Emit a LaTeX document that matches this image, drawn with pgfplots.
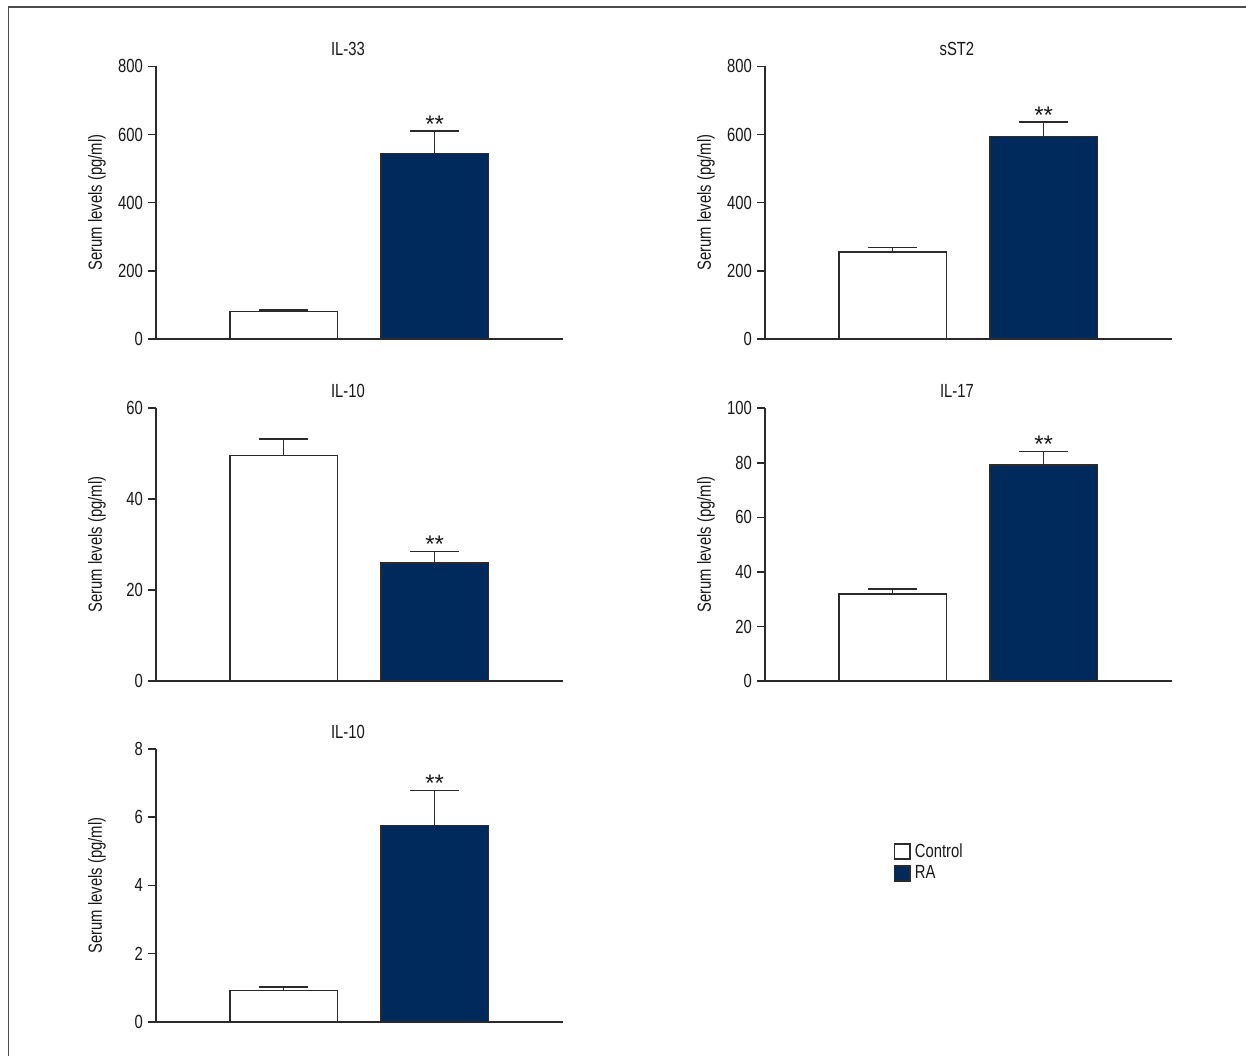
\documentclass[border=0pt]{standalone}
\usepackage{fontspec}
\setmainfont{Liberation Sans}[FakeStretch=0.78]
\newfontfamily\starfont{Liberation Sans}
\usepackage{pgfplots}
\pgfplotsset{compat=1.18}
\definecolor{navy}{HTML}{002A5C}
\definecolor{axcol}{HTML}{2B2B2B}
\definecolor{txtcol}{HTML}{1A1718}
\definecolor{framecol}{HTML}{4D4D4D}
\newcommand{\fs}{\fontsize{9.5}{11}\selectfont}

\tikzset{stars/.style={font=\starfont\fontsize{12}{12}\selectfont, text=txtcol, anchor=base, yshift=-0.6pt}}

\pgfplotsset{
 panel/.style={
  scale only axis, width=203.3pt, height=136.35pt,
  anchor=south west,
  xmin=0.1543, xmax=2.847, ymin=0,
  axis x line=bottom, axis y line=left,
  axis line style={-, line width=0.8pt, draw=axcol},
  xtick=\empty,
  tick align=outside, major tick length=4pt,
  ytick style={line width=0.8pt, draw=axcol},
  yticklabel style={font=\fs, text=txtcol, xshift=1pt},
  /pgf/number format/assume math mode=true,
  ylabel={Serum levels (pg/ml)},
  ylabel style={at={(axis description cs:-0.145,0.5)}, anchor=center, font=\fs, text=txtcol},
  title style={at={(axis description cs:0.472,1)}, anchor=base, yshift=-0.5pt, font=\fs, text=txtcol},
  clip=false,
  enlargelimits=false,
  scaled y ticks=false,
 },
 barbase/.style={ybar, bar shift=0pt, bar width=53.75pt, draw=axcol, line width=0.8pt,
   error bars/y dir=plus, error bars/y explicit,
   error bars/error bar style={line width=0.75pt, draw=axcol},
   error bars/error mark options={rotate=90, mark size=12.25pt, line width=0.75pt, draw=axcol}},
 ctrl/.style={barbase, fill=white},
 ra/.style={barbase, fill=navy},
}

\begin{document}
\begin{tikzpicture}
\path[use as bounding box] (0pt,0pt) rectangle (623pt,528pt);
\draw[line width=0.9pt, framecol] (4.2pt,0pt) -- (4.2pt,524.65pt) -- (623pt,524.65pt);

% IL-33
\begin{axis}[panel, at={(78pt,358.5pt)}, ymax=800, ytick={0,200,400,600,800}, title={IL-33}]
\addplot[ctrl] coordinates {(1,81) +- (0,4)};
\addplot[ra] coordinates {(2,544) +- (0,66)};
\node[stars] at (axis cs:2,610) {**};
\end{axis}

% sST2
\begin{axis}[panel, at={(382.5pt,358.5pt)}, ymax=800, ytick={0,200,400,600,800}, title={sST2}]
\addplot[ctrl] coordinates {(1,256) +- (0,12)};
\addplot[ra] coordinates {(2,594) +- (0,42)};
\node[stars] at (axis cs:2,636) {**};
\end{axis}

% IL-10
\begin{axis}[panel, at={(78pt,187.5pt)}, ymax=60, ytick={0,20,40,60}, title={IL-10}]
\addplot[ctrl] coordinates {(1,49.6) +- (0,3.6)};
\addplot[ra] coordinates {(2,26.0) +- (0,2.5)};
\node[stars] at (axis cs:2,28.5) {**};
\end{axis}

% IL-17
\begin{axis}[panel, at={(382.5pt,187.5pt)}, ymax=100, ytick={0,20,40,60,80,100}, title={IL-17}]
\addplot[ctrl] coordinates {(1,31.9) +- (0,1.8)};
\addplot[ra] coordinates {(2,79.3) +- (0,4.8)};
\node[stars] at (axis cs:2,84.1) {**};
\end{axis}

% IL-10 (bottom)
\begin{axis}[panel, at={(78pt,17.15pt)}, ymax=8, ytick={0,2,4,6,8}, title={IL-10},
  legend style={at={(axis description cs:1.8133,0.656)}, anchor=north west, draw=none, fill=none,
    inner sep=0pt, row sep=2.6pt, font=\fs, text=txtcol, nodes={inner sep=0pt}},
  legend cell align=left]
\addlegendimage{legend image code/.code={\draw[fill=white,draw=axcol,line width=0.8pt] (0pt,-3.8pt) rectangle (7.7pt,3.8pt); \path (10pt,0pt);}}
\addlegendentry{Control}
\addlegendimage{legend image code/.code={\draw[fill=navy,draw=axcol,line width=0.8pt] (0pt,-3.8pt) rectangle (7.7pt,3.8pt); \path (10pt,0pt);}}
\addlegendentry{RA}
\addplot[ctrl] coordinates {(1,0.92) +- (0,0.10)};
\addplot[ra] coordinates {(2,5.76) +- (0,1.02)};
\node[stars] at (axis cs:2,6.78) {**};
\end{axis}
\end{tikzpicture}
\end{document}
